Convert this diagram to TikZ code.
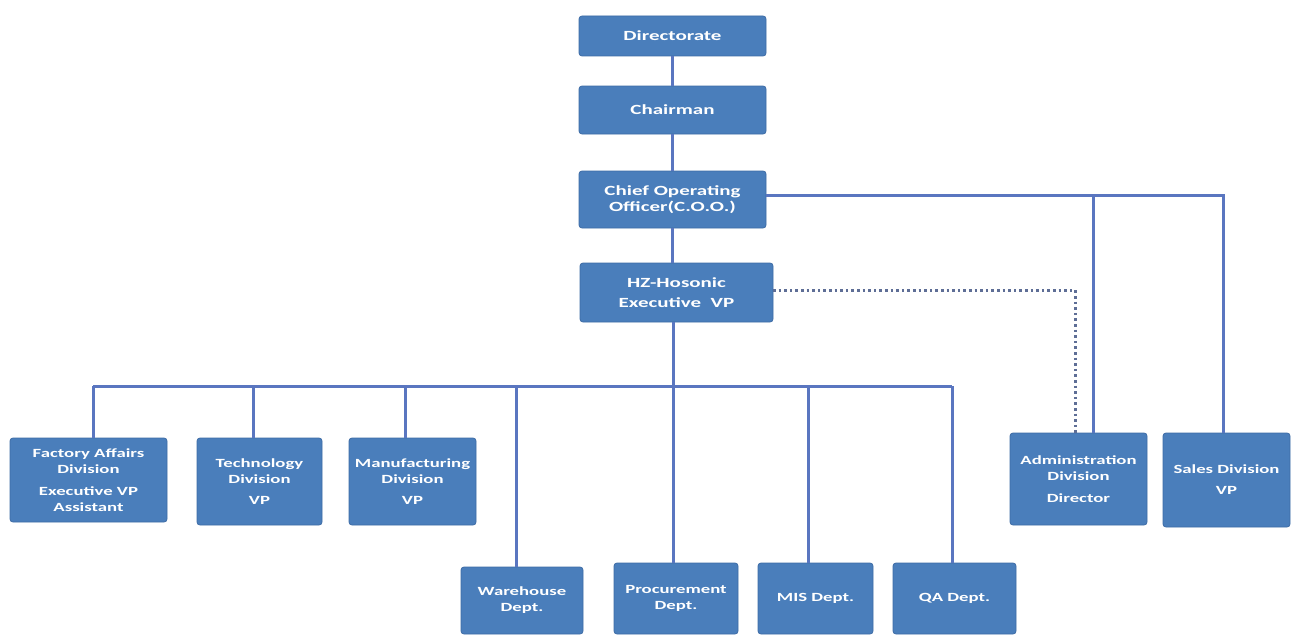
\documentclass[tikz,border=0pt]{standalone}
\usepackage{fontspec}
\setmainfont{Carlito}[FakeStretch=1.5]
\definecolor{boxfill}{HTML}{4A7EBB}
\definecolor{boxborder}{HTML}{3D6CA6}
\definecolor{linecol}{HTML}{5A76C0}
\definecolor{dotcol}{HTML}{5E6E96}
\tikzset{
  orgbox/.style={draw=boxborder, fill=boxfill, rounded corners=3pt, line width=0.8pt,
    text=white, align=center, inner sep=0pt, outer sep=0pt},
  topfont/.style={font=\fontsize{14}{16}\selectfont\bfseries},
  lowfont/.style={font=\fontsize{12.5}{16}\selectfont\bfseries},
  conn/.style={draw=linecol, line width=3pt},
  dotconn/.style={draw=dotcol, line width=3pt, dash pattern=on 2.6pt off 3pt},
}
\begin{document}
\begin{tikzpicture}[x=1pt,y=-1pt]
\useasboundingbox[fill=white] (0,0) rectangle (1292,634);
% top chain
\node[orgbox,topfont,minimum width=187pt,minimum height=40pt] (dir) at (672.5,36) {Directorate};
\node[orgbox,topfont,minimum width=187pt,minimum height=48pt] (chair) at (672.5,110) {Chairman};
\node[orgbox,topfont,minimum width=187pt,minimum height=57pt] (coo) at (672.5,199.5) {Chief Operating\\Officer(C.O.O.)};
\node[orgbox,topfont,minimum width=193pt,minimum height=59pt] (hz) at (676.5,292.5) {HZ-Hosonic\\[4pt]Executive\ \ VP};
% divisions
\node[orgbox,lowfont,minimum width=157pt,minimum height=84pt] (factory) at (88.5,480) {Factory Affairs\\Division\\[6pt]Executive VP\\Assistant};
\node[orgbox,lowfont,minimum width=125pt,minimum height=87pt] (tech) at (259.5,481.5) {Technology\\Division\\[5pt]VP};
\node[orgbox,lowfont,minimum width=127pt,minimum height=87pt] (manu) at (412.5,481.5) {Manufacturing\\Division\\[5pt]VP};
\node[orgbox,lowfont,minimum width=122pt,minimum height=67pt] (ware) at (522,600.5) {Warehouse\\Dept.};
\node[orgbox,lowfont,minimum width=124pt,minimum height=71pt] (proc) at (676,598.5) {Procurement\\Dept.};
\node[orgbox,lowfont,minimum width=115pt,minimum height=71pt] (mis) at (815.5,598.5) {MIS Dept.};
\node[orgbox,lowfont,minimum width=123pt,minimum height=71pt] (qa) at (954.5,598.5) {QA Dept.};
\node[orgbox,lowfont,minimum width=137pt,minimum height=92pt] (admin) at (1078.5,479) {Administration\\Division\\[6pt]Director};
\node[orgbox,lowfont,minimum width=127pt,minimum height=94pt] (sales) at (1226.5,480) {Sales Division\\[5pt]VP};
% coordinates
\coordinate (d1) at (93,386);
\coordinate (d2) at (253,386);
\coordinate (d3) at (405,386);
\coordinate (d4) at (516,386);
\coordinate (d5) at (673,386);
\coordinate (d6) at (808,386);
\coordinate (d7) at (952,386);
\coordinate (r1) at (1093,195);
\coordinate (r2) at (1223,195);
\coordinate (dt) at (1075,290);
% connectors
\draw[conn] (dir) -- (chair);
\draw[conn] (chair) -- (coo);
\draw[conn] (coo.south) -- (coo.south |- hz.north);
\draw[conn] (hz.south -| d5) -- (d5);
\draw[conn] (d1) -- (d7);
\draw[conn] (d1) -- (d1 |- factory.north);
\draw[conn] (d2) -- (d2 |- tech.north);
\draw[conn] (d3) -- (d3 |- manu.north);
\draw[conn] (d4) -- (d4 |- ware.north);
\draw[conn] (d5) -- (d5 |- proc.north);
\draw[conn] (d6) -- (d6 |- mis.north);
\draw[conn] (d7) -- (d7 |- qa.north);
\draw[conn] ([yshift=4.5pt]coo.east) -- (r2) -- (r2 |- sales.north);
\draw[conn] (r1) -- (r1 |- admin.north);
\draw[dotconn] ([yshift=2.5pt]hz.east) -- (dt) -- (dt |- admin.north);
\end{tikzpicture}
\end{document}
